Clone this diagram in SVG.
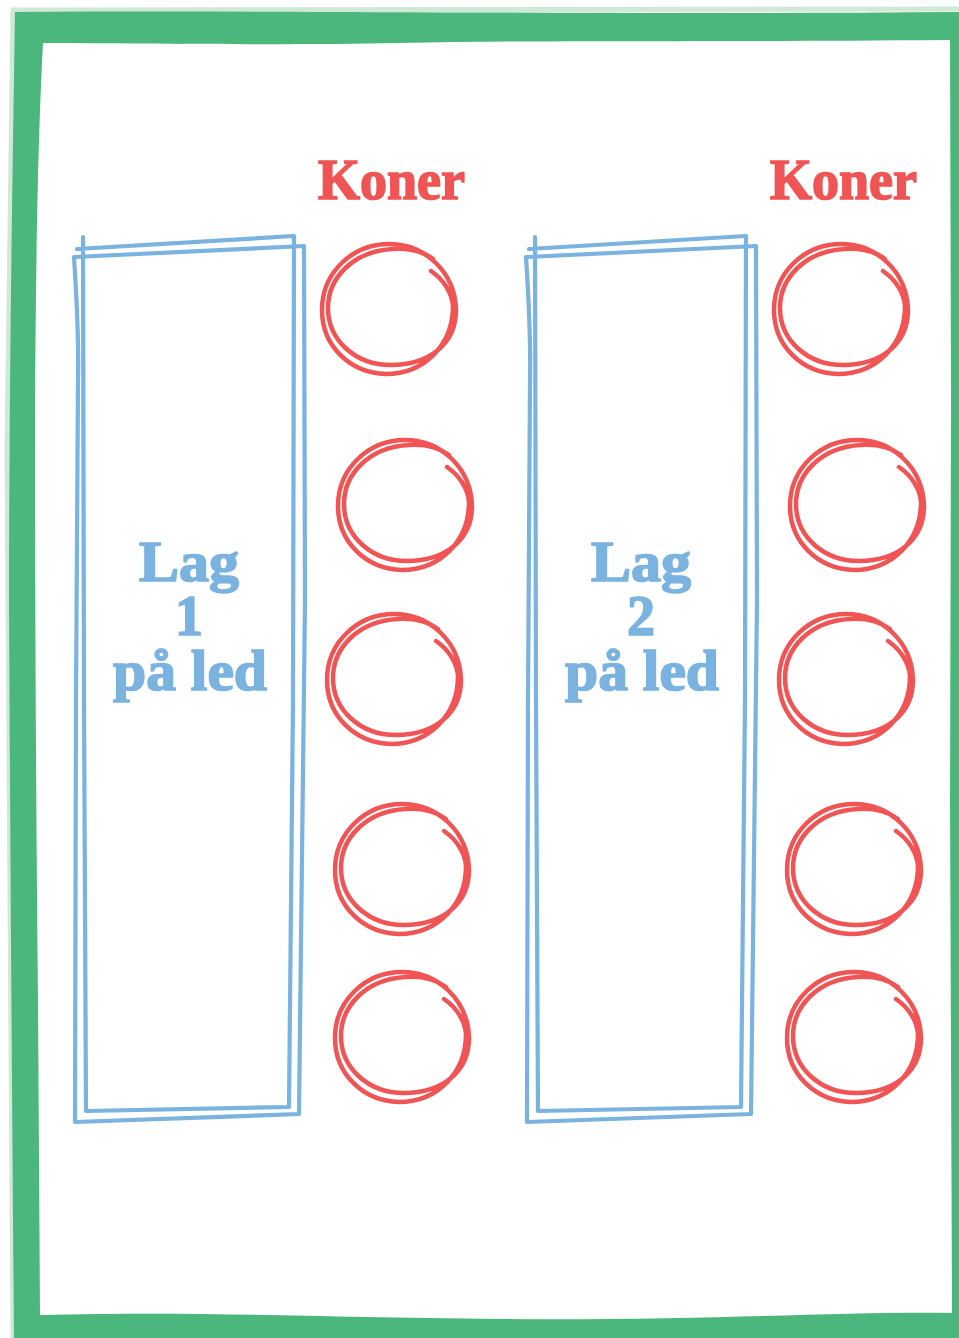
<svg xmlns="http://www.w3.org/2000/svg" width="959" height="1338" viewBox="0 0 959 1338">
<style>
.frame{fill:#4CB77C;fill-rule:evenodd}
.halo{fill:none;stroke:#CFE8D8;stroke-width:5;stroke-linecap:round}
.lane{fill:none;stroke:#7AB2E0;stroke-width:4.2;stroke-linecap:round;stroke-linejoin:round}
.cone{fill:none;stroke:#F05454;stroke-width:4.5;stroke-linecap:round;stroke-linejoin:round}
.koner{font-family:"Liberation Serif","Times New Roman",serif;font-weight:bold;font-size:56px;fill:#F05454;stroke:#F05454;stroke-width:1.6}
.lag{font-family:"Liberation Serif","Times New Roman",serif;font-weight:bold;font-size:56px;fill:#7AB2E0;stroke:#7AB2E0;stroke-width:1.6;text-anchor:middle}
</style>
<defs>
<path id="conePath" d="M42,-37 C55,-28 63,-15 64,-2 C64,37 35,66 -3,66 C-39,65 -67,38 -67,2 C-67,-36 -36,-64 0,-64 C36,-64 66,-36 67,2 C67,36 40,57 2,57 C-34,57 -61,32 -61,0 C-61,-30 -36,-57 4,-59 C22,-60 36,-55 44,-49"/>
<g id="laneShape">
<path class="lane" d="M83,237 L84,700 L86,1111 L289,1107 L293,700 L294,236 L77,249"/>
<path class="lane" d="M74,257 C76,290 79,330 78,380 L76,700 L75,1122 L299,1114 L305,600 L304,246 L75,257"/>
</g>
</defs>
<rect width="959" height="1338" fill="#ffffff"/>
<g id="frame">
<path class="halo" d="M13,1338 C10,1000 6,700 7,450 C9,250 11,100 13,10 C300,7 600,11 959,9"/>
<path class="frame" d="M15,12 C300,10 600,15 959,12 L959,1338 L14,1338 C12,1100 10,800 9,600 C9,400 12,200 15,12 Z M43,43 C200,44 300,45 400,43 C550,40 700,42 950,40 L951,400 L950,800 L952,1313 C850,1311 700,1321 500,1319 C300,1317 200,1311 40,1315 L38,1000 C36,800 35,600 35,420 C36,200 40,100 43,43 Z"/>
</g>
<g id="lane1">
<use href="#laneShape"/>
<text class="lag"><tspan x="189" y="581" textLength="100" lengthAdjust="spacingAndGlyphs">Lag</tspan><tspan x="189" y="635">1</tspan><tspan x="190" y="690" textLength="154" lengthAdjust="spacingAndGlyphs">på led</tspan></text>
</g>
<g id="lane2">
<use href="#laneShape" transform="translate(452,0)"/>
<text class="lag"><tspan x="641" y="581" textLength="100" lengthAdjust="spacingAndGlyphs">Lag</tspan><tspan x="641" y="635">2</tspan><tspan x="642" y="690" textLength="154" lengthAdjust="spacingAndGlyphs">på led</tspan></text>
</g>
<g id="label-koner-1"><text class="koner" x="318" y="199" textLength="147" lengthAdjust="spacingAndGlyphs">Koner</text></g>
<g id="label-koner-2"><text class="koner" x="770" y="199" textLength="147" lengthAdjust="spacingAndGlyphs">Koner</text></g>
<g id="cone1-1"><use class="cone" href="#conePath" transform="translate(389,308)"/></g>
<g id="cone1-2"><use class="cone" href="#conePath" transform="translate(405,504)"/></g>
<g id="cone1-3"><use class="cone" href="#conePath" transform="translate(394,678)"/></g>
<g id="cone1-4"><use class="cone" href="#conePath" transform="translate(402,868)"/></g>
<g id="cone1-5"><use class="cone" href="#conePath" transform="translate(402,1036)"/></g>
<g id="cone2-1"><use class="cone" href="#conePath" transform="translate(841,308)"/></g>
<g id="cone2-2"><use class="cone" href="#conePath" transform="translate(857,504)"/></g>
<g id="cone2-3"><use class="cone" href="#conePath" transform="translate(846,678)"/></g>
<g id="cone2-4"><use class="cone" href="#conePath" transform="translate(854,868)"/></g>
<g id="cone2-5"><use class="cone" href="#conePath" transform="translate(854,1036)"/></g>
<g id="connectors"/>
</svg>
